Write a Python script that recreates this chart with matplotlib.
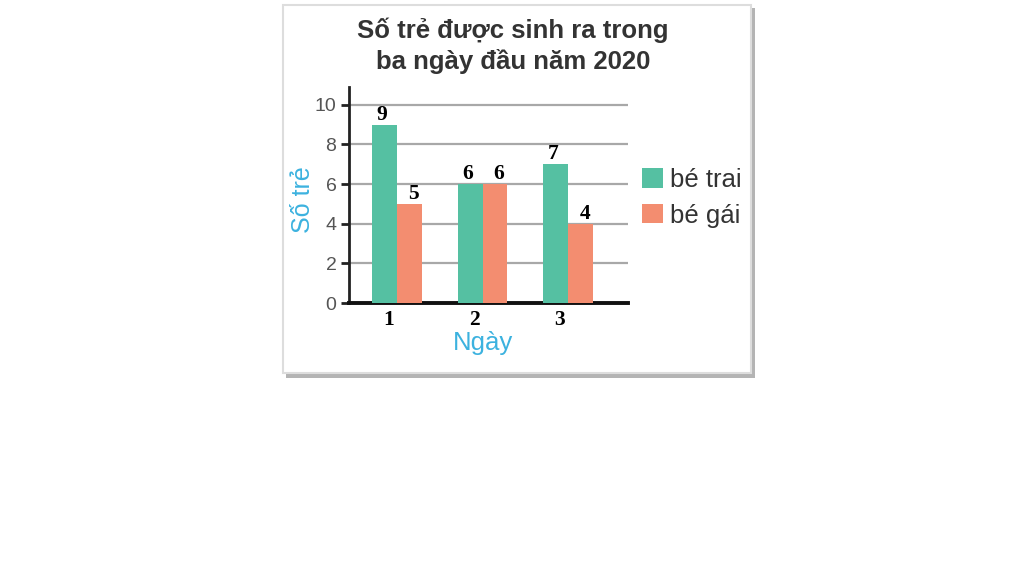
import numpy as np
import matplotlib.pyplot as plt
from matplotlib.patches import Rectangle

# data
days = ['1', '2', '3']
boys = [9, 6, 7]
girls = [5, 6, 4]
series_names = ['bé trai', 'bé gái']
yticks = [0, 2, 4, 6, 8, 10]

teal = '#55c0a2'
salmon = '#f38d70'
blue = '#3cb2df'

W, H = 1024, 576
fig = plt.figure(figsize=(W / 100, H / 100), dpi=100)
fig.patch.set_facecolor('white')

# card with shadow
def box(x0, y0, x1, y1, **kw):
    return Rectangle((x0 / W, 1 - y1 / H), (x1 - x0) / W, (y1 - y0) / H,
                     transform=fig.transFigure, **kw)

fig.patches.append(box(286, 8, 755, 378, facecolor='#b4b4b4', edgecolor='none', zorder=0))
fig.patches.append(box(283, 5, 751, 373, facecolor='white', edgecolor='#dddddd', lw=1.5, zorder=1))

ax = fig.add_axes([349 / W, (576 - 303) / H, (628 - 349) / W, (303 - 87) / H])
ax.set_facecolor('none')
ax.set_zorder(2)

x = np.arange(len(days))
w = 0.29
b1 = ax.bar(x - w / 2, boys, w, color=teal, zorder=3, label=series_names[0])
b2 = ax.bar(x + w / 2, girls, w, color=salmon, zorder=3, label=series_names[1])

ax.set_xlim(-0.56, 2.70)
ax.set_ylim(0, 10.9)
ax.set_yticks(yticks)
ax.yaxis.grid(True, color='#a8a8a8', lw=1.6, zorder=1)
ax.set_axisbelow(True)

for s in ['top', 'right']:
    ax.spines[s].set_visible(False)
ax.spines['left'].set_color('#222222')
ax.spines['left'].set_linewidth(2)
ax.spines['bottom'].set_color('#111111')
ax.spines['bottom'].set_linewidth(2.8)

ax.tick_params(axis='y', length=6, width=2, color='#222222', labelsize=14,
               labelcolor='#555555', pad=3)
for t in ax.get_yticklabels():
    t.set_family('Liberation Sans')

ax.set_xticks(x - 0.1)
ax.set_xticklabels(days, family='Liberation Serif', fontweight='bold', fontsize=15.5, color='black')
ax.tick_params(axis='x', length=0, pad=5)

# value labels
serif = dict(family='Liberation Serif', fontweight='bold', fontsize=15.5, color='black',
             ha='center', va='bottom')
for rect, v in zip(b1, boys):
    ax.annotate(str(v), (rect.get_x() + rect.get_width() / 2, v), xytext=(-2, 0),
                textcoords='offset points', **serif)
for rect, v in zip(b2, girls):
    ax.annotate(str(v), (rect.get_x() + rect.get_width() / 2, v), xytext=(3, 0),
                textcoords='offset points', **serif)

ax.set_ylabel('Số trẻ', family='Liberation Sans', fontsize=18, color=blue,
              va='center', ha='center')
ax.yaxis.set_label_coords(-0.165, 0.477)
ax.set_xlabel('Ngày', family='Liberation Sans', fontsize=18.5, color=blue,
              va='center', ha='center')
ax.xaxis.set_label_coords(0.48, -0.185)

fig.text(513 / W, 1 - 46 / H, 'Số trẻ được sinh ra trong\nba ngày đầu năm 2020',
         ha='center', va='center', family='Liberation Sans', fontweight='bold',
         fontsize=18.5, color='#333333', linespacing=1.28)

leg = ax.legend(loc='upper left', bbox_to_anchor=(642 / W, 1 - 168 / H),
                bbox_transform=fig.transFigure, frameon=False, borderpad=0, borderaxespad=0,
                prop={'family': 'Liberation Sans', 'size': 18.5},
                handlelength=0.8, handleheight=0.8, handletextpad=0.3, labelspacing=0.45)
for t in leg.get_texts():
    t.set_color('#333333')

fig.savefig('out.png', dpi=100)
